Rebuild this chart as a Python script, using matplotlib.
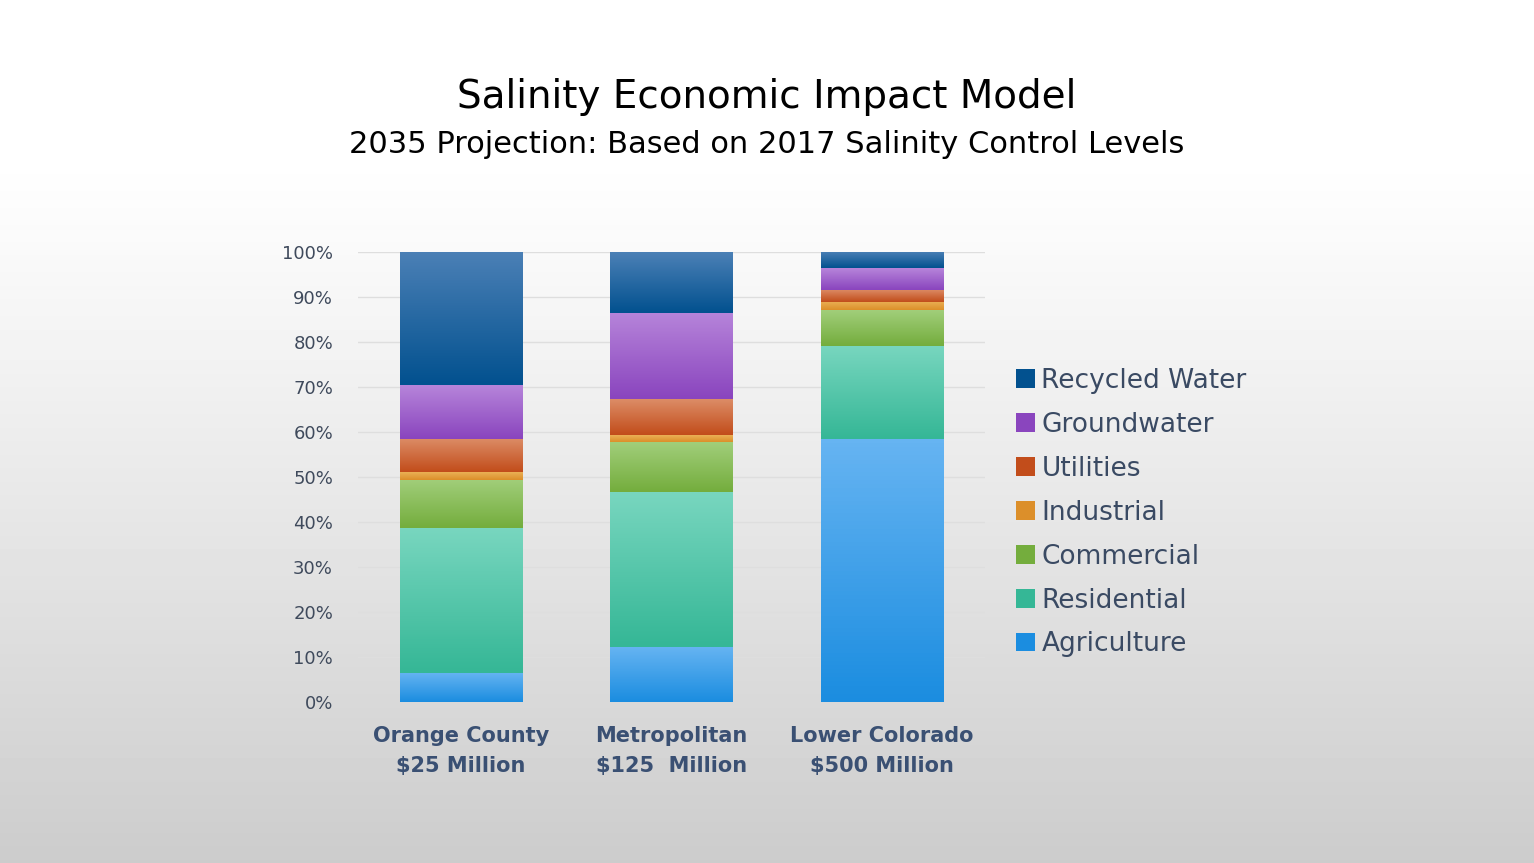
import numpy as np
import matplotlib.pyplot as plt
from matplotlib.colors import LinearSegmentedColormap

categories = ['Orange County\n$25 Million', 'Metropolitan\n$125  Million', 'Lower Colorado\n$500 Million']
series = ['Agriculture', 'Residential', 'Commercial', 'Industrial', 'Utilities', 'Groundwater', 'Recycled Water']
agriculture = [6.5, 12.3, 58.4]
residential = [32.2, 34.4, 20.7]
commercial = [10.7, 11.1, 8.0]
industrial = [1.6, 1.5, 1.8]
utilities = [7.4, 8.0, 2.7]
groundwater = [12.0, 19.2, 4.8]
recycled = [29.6, 13.5, 3.6]
values = [agriculture, residential, commercial, industrial, utilities, groundwater, recycled]

# (top colour, bottom colour) of each segment gradient
grads = [('#66b4f2', '#1b8de0'), ('#78d6bf', '#35b796'), ('#a1ce7a', '#74ad3d'),
         ('#eab055', '#dc8f2a'), ('#dc8c66', '#c24d1b'), ('#b684da', '#8a45be'),
         ('#4b80b6', '#02518f')]

fig = plt.figure(figsize=(15.34, 8.63), dpi=100)

# slide background
bg = fig.add_axes([0, 0, 1, 1], zorder=-10)
yy = np.linspace(0, 1, 256)
shade = np.clip((yy - 0.18) / 0.82, 0, 1) ** 1.1
bgimg = 1.0 - 0.2 * shade
bg.imshow(bgimg[:, None], aspect='auto', cmap='gray', vmin=0, vmax=1, extent=[0, 1, 0, 1], origin='upper')
bg.axis('off')

ax = fig.add_axes([0.2334, 0.1866, 0.4087, 0.5214])
ax.patch.set_alpha(0)
x = np.arange(len(categories))
bottom = np.zeros(len(categories))
handles = []
for name, vals, (c_top, c_bot) in zip(series, values, grads):
    bars = ax.bar(x, vals, 0.58, bottom=bottom, color=c_bot, label=name, zorder=3)
    cmap = LinearSegmentedColormap.from_list(name, [c_bot, c_top])
    for b in bars:
        x0, y0 = b.get_x(), b.get_y()
        w, h = b.get_width(), b.get_height()
        im = ax.imshow(np.linspace(0, 1, 64)[:, None], cmap=cmap, aspect='auto',
                       extent=[x0, x0 + w, y0, y0 + h], origin='lower', zorder=3.5)
        im.set_clip_path(b)
    handles.append(bars)
    bottom += np.array(vals)

ax.set_xlim(-0.49, 2.49)
ax.set_ylim(0, 100)
ax.set_yticks(np.arange(0, 101, 10))
ax.set_yticklabels([f'{v}%' for v in range(0, 101, 10)])
ax.set_xticks(x)
ax.set_xticklabels(categories, fontsize=15, fontweight='bold', color='#3a5073', linespacing=1.65)
ax.tick_params(axis='y', length=0, pad=18, labelsize=13, labelcolor='#3f4a5c')
ax.tick_params(axis='x', length=0, pad=17)
ax.grid(axis='y', color='#dedede', linewidth=1, zorder=0)
for s in ax.spines.values():
    s.set_visible(False)

leg = fig.legend(handles[::-1], series[::-1], loc='center left', bbox_to_anchor=(0.647, 0.406),
                 frameon=False, fontsize=19, labelcolor='#3a4a63', handlelength=0.7, handleheight=0.7,
                 handletextpad=0.25, labelspacing=0.68)

fig.text(0.5, 0.888, 'Salinity Economic Impact Model', ha='center', va='center', fontsize=28,
         color='black')
fig.text(0.5, 0.832, '2035 Projection: Based on 2017 Salinity Control Levels', ha='center', va='center',
         fontsize=22, color='black')

fig.savefig('out.png', dpi=100)
